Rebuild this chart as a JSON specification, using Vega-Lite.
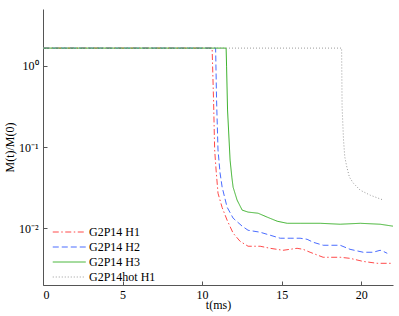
{
  "$schema": "https://vega.github.io/schema/vega-lite/v6.json",
  "width": 350,
  "height": 276,
  "autosize": "none",
  "padding": {"left": 43, "top": 9, "right": 6, "bottom": 31},
  "background": "white",
  "config": {"view": {"stroke": null}, "font": "Liberation Serif"},
  "data": {"values": [
    {"t": 0, "M": 1.65, "s": "G2P14 H1"},
    {"t": 10.63, "M": 1.65, "s": "G2P14 H1"},
    {"t": 10.72, "M": 0.38, "s": "G2P14 H1"},
    {"t": 10.79, "M": 0.092, "s": "G2P14 H1"},
    {"t": 10.88, "M": 0.052, "s": "G2P14 H1"},
    {"t": 11.0, "M": 0.027, "s": "G2P14 H1"},
    {"t": 11.26, "M": 0.018, "s": "G2P14 H1"},
    {"t": 11.57, "M": 0.0126, "s": "G2P14 H1"},
    {"t": 11.95, "M": 0.0087, "s": "G2P14 H1"},
    {"t": 12.39, "M": 0.0069, "s": "G2P14 H1"},
    {"t": 12.89, "M": 0.0060, "s": "G2P14 H1"},
    {"t": 13.65, "M": 0.0060, "s": "G2P14 H1"},
    {"t": 14.28, "M": 0.00566, "s": "G2P14 H1"},
    {"t": 15.09, "M": 0.00535, "s": "G2P14 H1"},
    {"t": 15.97, "M": 0.00566, "s": "G2P14 H1"},
    {"t": 16.35, "M": 0.0055, "s": "G2P14 H1"},
    {"t": 16.79, "M": 0.00506, "s": "G2P14 H1"},
    {"t": 17.61, "M": 0.00439, "s": "G2P14 H1"},
    {"t": 18.68, "M": 0.00439, "s": "G2P14 H1"},
    {"t": 19.3, "M": 0.00426, "s": "G2P14 H1"},
    {"t": 20.13, "M": 0.0039, "s": "G2P14 H1"},
    {"t": 21.0, "M": 0.0037, "s": "G2P14 H1"},
    {"t": 22.0, "M": 0.0037, "s": "G2P14 H1"},
    {"t": 0, "M": 1.65, "s": "G2P14 H2"},
    {"t": 10.85, "M": 1.65, "s": "G2P14 H2"},
    {"t": 10.91, "M": 0.38, "s": "G2P14 H2"},
    {"t": 11.0, "M": 0.092, "s": "G2P14 H2"},
    {"t": 11.13, "M": 0.0478, "s": "G2P14 H2"},
    {"t": 11.26, "M": 0.0321, "s": "G2P14 H2"},
    {"t": 11.57, "M": 0.0182, "s": "G2P14 H2"},
    {"t": 11.95, "M": 0.0133, "s": "G2P14 H2"},
    {"t": 12.52, "M": 0.0106, "s": "G2P14 H2"},
    {"t": 12.89, "M": 0.00944, "s": "G2P14 H2"},
    {"t": 13.65, "M": 0.00893, "s": "G2P14 H2"},
    {"t": 14.28, "M": 0.0082, "s": "G2P14 H2"},
    {"t": 14.91, "M": 0.00753, "s": "G2P14 H2"},
    {"t": 15.53, "M": 0.00753, "s": "G2P14 H2"},
    {"t": 16.16, "M": 0.00753, "s": "G2P14 H2"},
    {"t": 16.6, "M": 0.00731, "s": "G2P14 H2"},
    {"t": 16.98, "M": 0.00672, "s": "G2P14 H2"},
    {"t": 17.61, "M": 0.00617, "s": "G2P14 H2"},
    {"t": 18.68, "M": 0.00617, "s": "G2P14 H2"},
    {"t": 19.3, "M": 0.0055, "s": "G2P14 H2"},
    {"t": 20.13, "M": 0.00506, "s": "G2P14 H2"},
    {"t": 20.75, "M": 0.00506, "s": "G2P14 H2"},
    {"t": 21.19, "M": 0.00535, "s": "G2P14 H2"},
    {"t": 21.38, "M": 0.0052, "s": "G2P14 H2"},
    {"t": 21.64, "M": 0.00491, "s": "G2P14 H2"},
    {"t": 0, "M": 1.65, "s": "G2P14 H3"},
    {"t": 11.51, "M": 1.65, "s": "G2P14 H3"},
    {"t": 11.54, "M": 0.97, "s": "G2P14 H3"},
    {"t": 11.6, "M": 0.286, "s": "G2P14 H3"},
    {"t": 11.76, "M": 0.069, "s": "G2P14 H3"},
    {"t": 11.87, "M": 0.0426, "s": "G2P14 H3"},
    {"t": 11.95, "M": 0.032, "s": "G2P14 H3"},
    {"t": 12.2, "M": 0.0222, "s": "G2P14 H3"},
    {"t": 12.52, "M": 0.0167, "s": "G2P14 H3"},
    {"t": 12.89, "M": 0.0158, "s": "G2P14 H3"},
    {"t": 13.52, "M": 0.0153, "s": "G2P14 H3"},
    {"t": 14.09, "M": 0.0137, "s": "G2P14 H3"},
    {"t": 14.72, "M": 0.0122, "s": "G2P14 H3"},
    {"t": 15.35, "M": 0.0115, "s": "G2P14 H3"},
    {"t": 16.16, "M": 0.0115, "s": "G2P14 H3"},
    {"t": 17.42, "M": 0.0115, "s": "G2P14 H3"},
    {"t": 18.68, "M": 0.0112, "s": "G2P14 H3"},
    {"t": 19.94, "M": 0.0115, "s": "G2P14 H3"},
    {"t": 21.19, "M": 0.0112, "s": "G2P14 H3"},
    {"t": 22.0, "M": 0.0106, "s": "G2P14 H3"},
    {"t": 0, "M": 1.65, "s": "G2P14hot H1"},
    {"t": 18.77, "M": 1.65, "s": "G2P14hot H1"},
    {"t": 18.8, "M": 0.312, "s": "G2P14hot H1"},
    {"t": 18.89, "M": 0.122, "s": "G2P14hot H1"},
    {"t": 18.97, "M": 0.0753, "s": "G2P14hot H1"},
    {"t": 19.1, "M": 0.0566, "s": "G2P14hot H1"},
    {"t": 19.26, "M": 0.0426, "s": "G2P14hot H1"},
    {"t": 19.5, "M": 0.036, "s": "G2P14hot H1"},
    {"t": 19.94, "M": 0.0294, "s": "G2P14hot H1"},
    {"t": 20.57, "M": 0.0255, "s": "G2P14hot H1"},
    {"t": 21.4, "M": 0.0222, "s": "G2P14hot H1"}
  ]},
  "mark": {"type": "line", "strokeWidth": 1, "clip": true},
  "encoding": {
    "x": {
      "field": "t", "type": "quantitative",
      "scale": {"domain": [0, 22], "nice": false, "zero": false},
      "axis": {
        "title": "t(ms)", "values": [0, 5, 10, 15, 20], "grid": false,
        "tickSize": -4, "tickColor": "#555", "domainColor": "#555",
        "labelPadding": 8, "labelFont": "Liberation Serif", "labelFontSize": 12,
        "labelColor": "black", "titleFont": "Liberation Serif", "titleFontSize": 12,
        "titleFontWeight": "normal", "titlePadding": -1, "titleColor": "black"
      }
    },
    "y": {
      "field": "M", "type": "quantitative",
      "scale": {"type": "log", "domain": [0.002, 5], "nice": false},
      "axis": {
        "title": "M(t)/M(0)", "values": [0.01, 0.1, 1], "grid": false,
        "labelExpr": "datum.value >= 1 ? '10⁰' : datum.value >= 0.1 ? '10⁻¹' : '10⁻²'",
        "tickSize": -4, "tickColor": "#555", "domainColor": "#555",
        "labelPadding": 9, "labelFont": "Liberation Serif", "labelFontSize": 12,
        "labelColor": "black", "titleFont": "Liberation Serif", "titleFontSize": 12,
        "titleFontWeight": "normal", "titlePadding": 2, "titleColor": "black"
      }
    },
    "color": {
      "field": "s", "type": "nominal",
      "scale": {"domain": ["G2P14 H1", "G2P14 H2", "G2P14 H3", "G2P14hot H1"],
                "range": ["#ff4a4a", "#4a6cff", "#3cb22c", "#9a9a9a"]},
      "legend": {
        "title": null, "orient": "none", "legendX": 9, "legendY": 214,
        "symbolType": "M-1,0H3", "symbolSize": 272, "symbolStrokeWidth": 1,
        "labelFont": "Liberation Serif", "labelFontSize": 12, "labelColor": "black",
        "labelOffset": 19, "rowPadding": -2, "padding": 0
      }
    },
    "strokeDash": {
      "field": "s", "type": "nominal",
      "scale": {"domain": ["G2P14 H1", "G2P14 H2", "G2P14 H3", "G2P14hot H1"],
                "range": [[6, 2.5, 1.5, 2.5], [6, 3], [1, 0], [1, 2]]},
      "legend": {
        "title": null, "orient": "none", "legendX": 9, "legendY": 214,
        "symbolType": "M-1,0H3", "symbolSize": 272, "symbolStrokeWidth": 1,
        "labelFont": "Liberation Serif", "labelFontSize": 12, "labelColor": "black",
        "labelOffset": 19, "rowPadding": -2, "padding": 0
      }
    }
  }
}
